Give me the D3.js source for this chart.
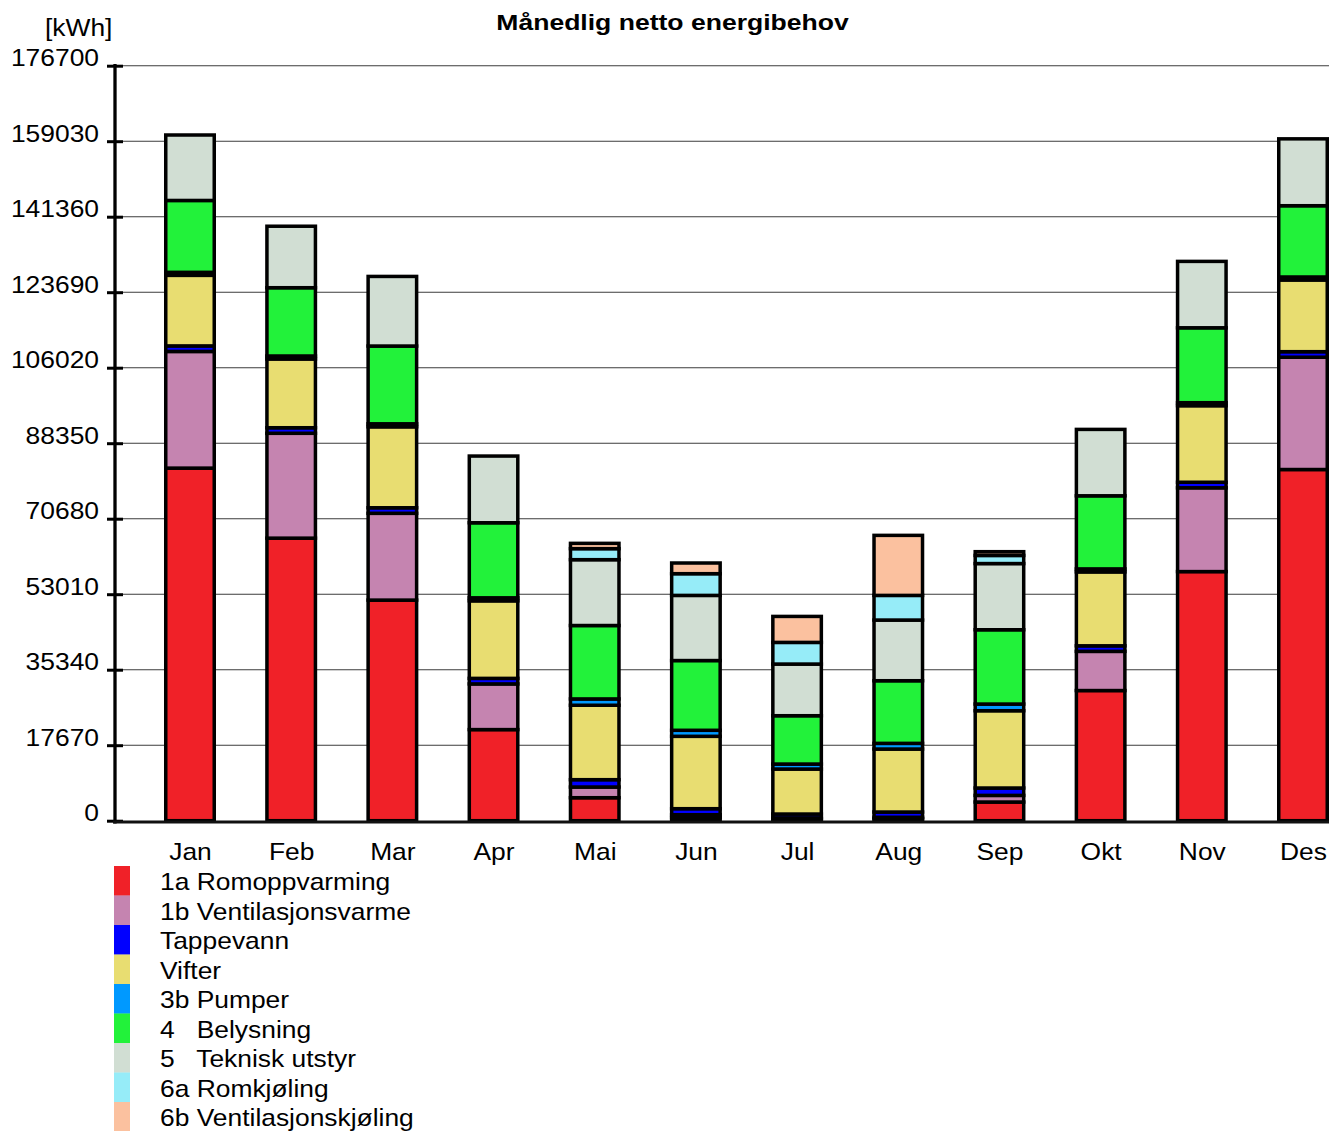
<!DOCTYPE html>
<html>
<head>
<meta charset="utf-8">
<title>Månedlig netto energibehov</title>
<script src="https://cdn.jsdelivr.net/npm/d3@7"></script>
<style>
  html, body { margin: 0; padding: 0; background: #ffffff; }
  svg { display: block; font-family: "Liberation Sans", Arial, Helvetica, sans-serif; }
  text { white-space: pre; fill: #000; }
</style>
</head>
<body>
<svg id="chart" width="1329" height="1131"></svg>
<script>
// Categories
const months = ["Jan", "Feb", "Mar", "Apr", "Mai", "Jun", "Jul", "Aug", "Sep", "Okt", "Nov", "Des"];

// Monthly net energy need per post [kWh]
const romoppvarming       = [82520, 66130, 51630, 21320, 5380, 700, 400, 450, 4370, 30460, 58300, 82190];
const ventilasjonsvarme   = [27300, 24540, 20310, 10690, 2500, 700, 260, 350, 1550, 9170, 19610, 26280];
const tappevann           = [1300, 1300, 1300, 1300, 1720, 1410, 900, 1230, 1730, 1300, 1300, 1300];
const vifter              = [16520, 16090, 18950, 18150, 17420, 16940, 10530, 14740, 18090, 17300, 17920, 16780];
const pumper              = [700, 700, 700, 700, 1480, 1410, 1170, 1330, 1560, 700, 700, 700];
const belysning           = [16820, 15980, 18200, 17570, 17180, 16320, 11310, 14660, 17390, 17110, 17530, 16680];
const tekniskUtstyr       = [15320, 14390, 16290, 15610, 15410, 15250, 12090, 14200, 15490, 15540, 15540, 15650];
const romkjoling          = [0, 0, 0, 0, 2580, 5080, 5070, 5770, 1900, 0, 0, 0];
const ventilasjonskjoling = [0, 0, 0, 0, 1240, 2500, 6080, 14050, 880, 0, 0, 0];

// Series labels (legend) and fills, bottom to top
const seriesLabels = ["1a Romoppvarming", "1b Ventilasjonsvarme", "Tappevann", "Vifter", "3b Pumper",
                      "4   Belysning", "5   Teknisk utstyr", "6a Romkjøling", "6b Ventilasjonskjøling"];
const seriesColors = ["#f02128", "#c584b0", "#0000ff", "#e8dd71", "#0099ff",
                      "#22f23a", "#d1ded3", "#96ecf8", "#fbc19f"];
const seriesValues = [romoppvarming, ventilasjonsvarme, tappevann, vifter, pumper,
                      belysning, tekniskUtstyr, romkjoling, ventilasjonskjoling];

// Y axis tick labels
const yTicks = [0, 17670, 35340, 53010, 70680, 88350, 106020, 123690, 141360, 159030, 176700];

const titleText = "Månedlig netto energibehov";
const unitText = "[kWh]";

// ---------------------------------------------------------------------------
const W = 1329, H = 1131;
const svg = d3.select("#chart");
svg.append("rect").attr("width", W).attr("height", H).attr("fill", "#fff");

const axisX = 115, baseY = 822, plotRight = 1329;
const stretch = 1.1; // wide, Helvetica-like lettering

const x = d3.scalePoint().domain(months).range([190, 1303]);
const y = d3.scaleLinear().domain([0, 176700]).range([820.7, 65.7]);
const barW = 48.5;

// Text helper: horizontally widened glyphs anchored at (px, py)
function label(parent, px, py, str, anchor, size, weight, sx) {
  return parent.append("text")
    .attr("transform", `translate(${px},${py}) scale(${sx || stretch},1)`)
    .attr("text-anchor", anchor || "start")
    .attr("font-size", size || 24)
    .attr("font-weight", weight || "normal")
    .text(str);
}

// Gridlines
svg.append("g")
  .selectAll("line")
  .data(yTicks.filter(t => t > 0))
  .join("line")
  .attr("x1", axisX + 8).attr("x2", plotRight)
  .attr("y1", d => y(d)).attr("y2", d => y(d))
  .attr("stroke", "#3c3c3c").attr("stroke-width", 1.1);

// Stacked bars
const rows = months.map((m, i) => {
  const r = { month: m };
  seriesLabels.forEach((k, s) => { r[k] = seriesValues[s][i]; });
  return r;
});
const stacked = d3.stack().keys(seriesLabels)(rows);

const barLayer = svg.append("g");
stacked.forEach((layer, s) => {
  barLayer.append("g")
    .selectAll("rect")
    .data(layer.filter(d => d[1] - d[0] > 0))
    .join("rect")
    .attr("x", d => x(d.data.month) - barW / 2)
    .attr("width", barW)
    .attr("y", d => y(d[1]))
    .attr("height", d => y(d[0]) - y(d[1]))
    .attr("fill", seriesColors[s])
    .attr("stroke", "#000")
    .attr("stroke-width", 3.5);
});

// Y axis
const yAxis = svg.append("g")
  .attr("transform", `translate(${axisX},0)`)
  .call(d3.axisLeft(y).tickValues(yTicks).tickFormat(d3.format("d")).tickSizeOuter(0).tickSizeInner(8));
yAxis.select(".domain").remove();
yAxis.selectAll(".tick line").attr("x1", 8).attr("x2", -8).attr("stroke", "#000").attr("stroke-width", 3);
yAxis.selectAll(".tick text").each(function () {
  const t = d3.select(this);
  t.attr("x", null).attr("dy", null).attr("y", null)
    .attr("transform", `translate(-16,0) scale(${stretch},1)`)
    .attr("font-size", 24)
    .attr("font-family", null)
    .attr("fill", "#000");
});
yAxis.attr("font-family", null).attr("font-size", null);
svg.append("line")
  .attr("x1", axisX).attr("x2", axisX).attr("y1", 64).attr("y2", baseY + 1.5)
  .attr("stroke", "#000").attr("stroke-width", 3.3);

// X axis
svg.append("line")
  .attr("x1", axisX - 2).attr("x2", plotRight).attr("y1", baseY).attr("y2", baseY)
  .attr("stroke", "#111").attr("stroke-width", 3);
const xAxis = svg.append("g")
  .attr("transform", `translate(0,${baseY})`)
  .call(d3.axisBottom(x).tickSize(0));
xAxis.select(".domain").remove();
xAxis.attr("font-family", null).attr("font-size", null);
xAxis.selectAll(".tick text").each(function () {
  d3.select(this).attr("y", null).attr("dy", null)
    .attr("transform", `translate(0,38) scale(${stretch},1)`)
    .attr("font-size", 24)
    .attr("fill", "#000");
});

// Title and unit
label(svg, 672.5, 30, titleText, "middle", 22.5, "bold", 1.18);
label(svg, 45, 36, unitText, "start", 24);

// Legend
const legend = svg.append("g");
const rowH = 29.5, legTop = 866;
seriesLabels.forEach((name, i) => {
  legend.append("rect")
    .attr("x", 114).attr("y", legTop + i * rowH)
    .attr("width", 16).attr("height", rowH + 0.3)
    .attr("fill", seriesColors[i]);
  label(legend, 160, legTop + i * rowH + 24, name, "start", 24);
});
</script>
</body>
</html>
